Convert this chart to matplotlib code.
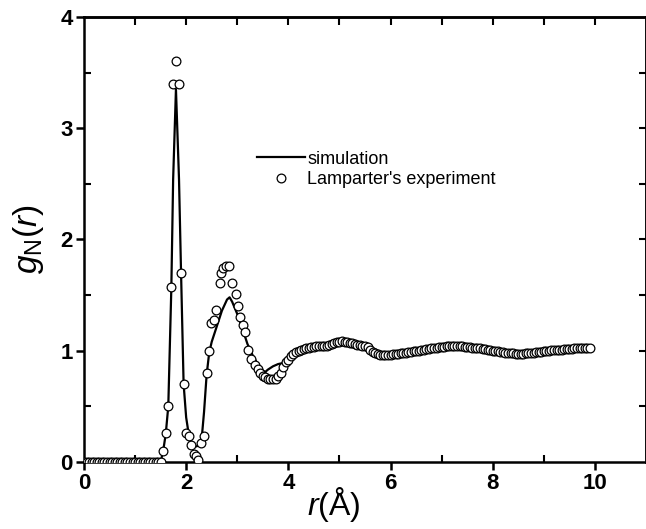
import numpy as np
import matplotlib.pyplot as plt

plt.rcParams['font.family'] = ['Liberation Sans', 'DejaVu Sans']
plt.rcParams['mathtext.fontset'] = 'custom'
plt.rcParams['mathtext.it'] = 'Liberation Sans:italic'
plt.rcParams['mathtext.rm'] = 'Liberation Sans'

# simulation g_N(r)
sim_r = [0.0, 1.45, 1.5, 1.55, 1.6, 1.65, 1.71, 1.745, 1.8, 1.86, 1.9, 1.95,
         2.0, 2.05, 2.1, 2.15, 2.2, 2.25, 2.3, 2.35, 2.4, 2.45, 2.5, 2.6,
         2.7, 2.8, 2.85, 2.9, 3.0, 3.1, 3.2, 3.3, 3.4, 3.5, 3.55, 3.6, 3.7,
         3.8, 3.9, 4.0, 4.1, 4.2, 4.4, 4.6, 4.8, 5.0, 5.2, 5.4, 5.6, 5.8,
         6.0, 6.5, 7.0, 7.5, 8.0, 8.5, 9.0, 9.5, 9.9]
sim_g = [0.0, 0.0, 0.0, 0.10, 0.25, 0.50, 1.57, 2.54, 3.35, 2.54, 1.70, 0.70,
         0.40, 0.25, 0.17, 0.14, 0.14, 0.15, 0.19, 0.45, 0.78, 0.98, 1.08, 1.22,
         1.36, 1.46, 1.48, 1.44, 1.33, 1.20, 1.06, 0.96, 0.88, 0.82, 0.81, 0.83, 0.86,
         0.88, 0.89, 0.92, 0.97, 1.00, 1.03, 1.04, 1.05, 1.08, 1.07, 1.05, 1.01, 0.96,
         0.96, 1.00, 1.03, 1.035, 1.005, 0.97, 0.995, 1.015, 1.025]

# Lamparter's experiment: flat zero region (0 - 1.5, step 0.05)
exp_zero_g = [0.0] * 31
exp_zero_r = 0.05 * np.arange(len(exp_zero_g))

# first and second peak (irregularly read points)
exp_peak_r = [1.55, 1.60, 1.65, 1.71, 1.745, 1.80, 1.855, 1.90, 1.95, 2.00,
              2.05, 2.10, 2.15, 2.19, 2.24, 2.30, 2.35, 2.40, 2.45, 2.49,
              2.54, 2.59, 2.66, 2.69, 2.72, 2.77, 2.83, 2.90, 2.97, 3.01,
              3.06, 3.11, 3.16, 3.21, 3.27, 3.34, 3.40, 3.45]
exp_peak_g = [0.10, 0.26, 0.50, 1.57, 3.40, 3.60, 3.40, 1.70, 0.70, 0.26,
              0.23, 0.15, 0.07, 0.05, 0.02, 0.17, 0.23, 0.80, 1.00, 1.25,
              1.28, 1.37, 1.61, 1.70, 1.745, 1.76, 1.76, 1.61, 1.51, 1.40,
              1.30, 1.23, 1.17, 1.01, 0.93, 0.87, 0.835, 0.80]

# dense tail, from 3.50 in steps of 0.05
exp_tail_g = [0.77, 0.76, 0.75, 0.75, 0.75, 0.75, 0.77, 0.80, 0.85, 0.90,
              0.92, 0.95, 0.97, 0.99, 1.00, 1.01, 1.015, 1.02, 1.025, 1.03,
              1.035, 1.04, 1.04, 1.04, 1.04, 1.045, 1.05, 1.06, 1.07, 1.075,
              1.08, 1.085, 1.08, 1.08, 1.07, 1.065, 1.06, 1.055, 1.05, 1.045,
              1.04, 1.03, 1.01, 0.99, 0.98, 0.97, 0.965, 0.965, 0.965, 0.965,
              0.965, 0.967, 0.97, 0.972, 0.975, 0.98, 0.983, 0.986, 0.99, 0.993,
              1.00, 1.00, 1.005, 1.01, 1.012, 1.015, 1.02, 1.022, 1.025, 1.03,
              1.033, 1.035, 1.038, 1.04, 1.042, 1.045, 1.045, 1.043, 1.04, 1.037,
              1.035, 1.03, 1.028, 1.025, 1.022, 1.02, 1.018, 1.015, 1.01, 1.005,
              1.00, 0.998, 0.995, 0.99, 0.987, 0.983, 0.98, 0.977, 0.975, 0.973,
              0.972, 0.972, 0.973, 0.975, 0.977, 0.98, 0.982, 0.985, 0.987, 0.99,
              0.993, 0.997, 1.00, 1.003, 1.005, 1.008, 1.01, 1.01, 1.012, 1.013,
              1.015, 1.017, 1.02, 1.02, 1.02, 1.022, 1.025, 1.025, 1.025]
exp_tail_r = 3.5 + 0.05 * np.arange(len(exp_tail_g))

exp_r = np.concatenate([exp_zero_r, exp_peak_r, exp_tail_r])
exp_g = np.concatenate([exp_zero_g, exp_peak_g, exp_tail_g])

fig = plt.figure(figsize=(6.46, 5.29), dpi=100)
ax = fig.add_axes([0.130, 0.1267, 0.870, 0.8413])

ax.plot(sim_r, sim_g, color='black', lw=1.6, label='simulation', zorder=2)
ax.plot(exp_r, exp_g, ls='none', marker='o', ms=6.3, mfc='white', mec='black',
        mew=0.9, label="Lamparter's experiment", zorder=3)

ax.set_xlim(0, 11)
ax.set_ylim(0, 4)
ax.set_xticks([0, 2, 4, 6, 8, 10])
ax.set_xticks([1, 3, 5, 7, 9], minor=True)
ax.set_yticks([0, 1, 2, 3, 4])
ax.set_yticks([0.5, 1.5, 2.5, 3.5], minor=True)
ax.tick_params(which='major', direction='out', length=6, width=1.8, pad=2,
               labelsize=16)
ax.tick_params(which='minor', direction='in', length=5, width=1.5)
for lab in ax.get_xticklabels() + ax.get_yticklabels():
    lab.set_fontweight('bold')

top = ax.secondary_xaxis('top')
top.set_xticks(list(range(1, 11)))
top.tick_params(direction='in', length=6, width=1.5, labeltop=False)
right = ax.secondary_yaxis('right')
right.set_yticks([0.5, 1, 1.5, 2, 2.5, 3, 3.5])
right.tick_params(direction='in', length=5, width=1.5, labelright=False)

for s in list(ax.spines.values()) + [top.spines['top'], right.spines['right']]:
    s.set_linewidth(1.8)

ax.set_xlabel(r'$r$(Å)', fontsize=23, labelpad=0)
ax.xaxis.set_label_coords(0.445, -0.052)
ax.set_ylabel(r'$g_\mathrm{N}(r)$', fontsize=24)
ax.yaxis.set_label_coords(-0.068, 0.5)

ax.legend(loc='upper left', bbox_to_anchor=(0.291, 0.72), frameon=False,
          fontsize=13, handlelength=2.7, handletextpad=0.1, labelspacing=0.2,
          borderpad=0)

fig.savefig('out.png', dpi=100)
